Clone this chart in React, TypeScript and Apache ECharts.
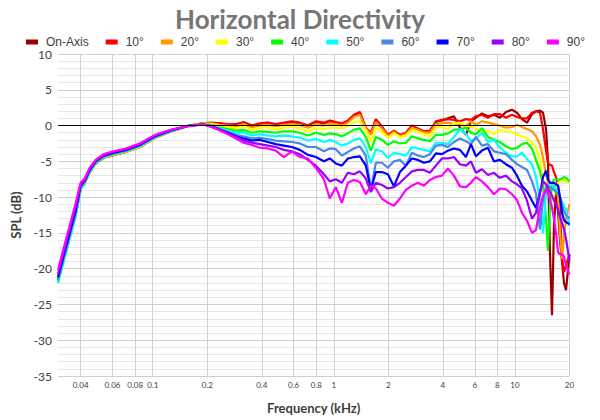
import React, { useEffect, useRef } from "react";
import * as echarts from "echarts";

const freqKHz = [
  0.03, 0.0322, 0.0348, 0.0376, 0.04, 0.0421, 0.0449, 0.0484, 0.0536, 0.0609, 0.0709, 0.0848, 0.103, 0.127, 0.16, 0.191,
  0.212, 0.235, 0.26, 0.288, 0.318, 0.352, 0.39, 0.432, 0.478, 0.53, 0.586, 0.649, 0.719, 0.796, 0.881, 0.95,
  1.026, 1.107, 1.195, 1.29, 1.392, 1.502, 1.601, 1.706, 1.842, 1.988, 2.146, 2.316, 2.499, 2.697, 2.912, 3.142, 3.391, 3.66,
  3.951, 4.264, 4.603, 4.968, 5.362, 5.713, 6.088, 6.571, 7.092, 7.655, 8.262, 8.918, 9.625, 10.26, 10.93, 11.65, 12.42, 13.06,
  13.74, 14.28, 14.84, 15.22, 15.61, 16.01, 16.42, 16.85, 17.29, 17.73, 18.19, 18.65, 19.13, 20,
];

const onAxis = [
  -21.6, -18.6, -15.4, -12.2, -8.8, -8.0, -6.5, -5.3, -4.5, -4.1, -3.7, -3.0, -1.7, -0.8, 0.0, 0.3,
  0.3, 0.3, 0.1, 0.2, 0.4, 0.0, 0.2, 0.4, 0.1, 0.3, 0.5, 0.3, 0.0, 0.5, 0.3, 0.6,
  0.4, 0.2, 0.6, 1.4, 1.8, -0.5, -1.2, 0.8, -0.3, -1.5, -0.8, -1.4, -1.2, -0.1, -0.5, -0.9, -0.9, 0.5,
  0.7, 1.0, 1.3, -0.3, -1.3, 0.6, 1.1, 1.7, 1.3, 1.5, 1.1, 1.9, 2.2, 1.8, 0.9, 0.4, 1.6, 2.0,
  2.1, 1.8, -0.5, -5.0, -18, -26.5, -14, -9, -12, -16, -19, -22, -23, -18,
];
const deg10 = [
  -21.7, -18.7, -15.5, -12.3, -8.9, -8.0, -6.5, -5.3, -4.5, -4.1, -3.7, -3.0, -1.7, -0.8, 0.0, 0.35,
  0.4, 0.3, 0.2, 0.1, 0.5, 0.0, 0.3, 0.4, 0.2, 0.4, 0.6, 0.4, 0.0, 0.6, 0.4, 0.7,
  0.5, 0.3, 0.7, 1.5, 1.9, -0.3, -1.0, 0.9, -0.1, -1.3, -0.7, -1.3, -1.0, 0.0, -0.4, -0.8, -0.7, 0.6,
  0.8, 0.9, 0.8, 0.6, 0.9, 0.8, 1.3, 1.5, 1.1, 1.6, 1.6, 1.1, 1.5, 1.2, 1.0, 1.0, 1.8, 2.0,
  1.8, -0.5, -3.5, -5.2, -5.5, -5.6, -6.5, -7.2, -8.4, -12, -18.6, -20.5, -19.5, -18,
];
const deg20 = [
  -21.8, -18.8, -15.6, -12.4, -8.9, -8.1, -6.5, -5.3, -4.5, -4.1, -3.7, -3.0, -1.7, -0.8, 0.0, 0.3,
  0.3, 0.1, 0.0, -0.1, 0.2, -0.3, 0.0, 0.1, -0.1, 0.1, 0.2, 0.1, -0.3, 0.2, 0.0, 0.3,
  0.2, 0.0, 0.4, 1.2, 1.5, -0.4, -1.3, 0.5, -0.4, -1.5, -0.9, -1.5, -1.2, -0.3, -0.6, -1.0, -1.0, 0.2,
  0.3, 0.4, 0.2, 0.1, 0.0, 0.6, 0.1, 0.6, 0.4, 0.2, 0.0, -0.3, -0.2, 0.1, -0.2, -0.5, -0.8, -1.5,
  -2.6, -4.5, -6.8, -8.0, -8.8, -8.9, -8.6, -8.4, -10, -15, -18.6, -15.5, -13, -11,
];
const deg30 = [
  -21.9, -18.9, -15.7, -12.5, -8.9, -8.1, -6.5, -5.3, -4.45, -4.05, -3.65, -2.95, -1.7, -0.8, 0.0, 0.25,
  0.2, -0.1, -0.2, -0.4, -0.1, -0.6, -0.3, -0.3, -0.5, -0.3, -0.2, -0.4, -0.8, -0.3, -0.5, -0.3,
  -0.3, -0.4, -0.1, 0.5, 0.6, -0.6, -2.2, -0.3, -0.9, -1.7, -1.1, -1.6, -1.4, -0.6, -0.9, -1.2, -1.5, -0.3,
  -0.2, -0.5, 0.3, 0.4, 0.0, -0.2, -0.4, -0.8, -0.8, -1.2, -0.6, -0.8, -0.9, -1.2, -1.5, -1.8, -2.4, -3.0,
  -4.8, -7.7, -8.6, -8.9, -9.5, -10.2, -9.8, -8.8, -8.0, -7.8, -7.5, -7.6, -7.8, -8.0,
];
const deg40 = [
  -22.0, -19.0, -15.8, -12.6, -8.9, -8.1, -6.5, -5.3, -4.4, -4.0, -3.6, -2.9, -1.65, -0.8, 0.0, 0.2,
  0.1, -0.3, -0.5, -0.7, -0.6, -1.0, -0.8, -0.9, -1.0, -0.8, -0.8, -1.0, -1.4, -1.0, -1.3, -1.1,
  -1.2, -1.5, -1.1, -0.6, -0.4, -1.6, -3.5, -1.6, -2.0, -2.7, -2.2, -2.5, -2.4, -1.5, -1.8, -2.0, -2.2, -1.3,
  -1.3, -1.1, -0.6, -0.5, -0.3, -1.0, -1.2, -0.4, -1.6, -2.0, -2.3, -2.9, -3.3, -3.1, -2.6, -2.4, -3.2, -4.8,
  -6.3, -8.3, -13, -17.5, -11, -8.3, -7.6, -7.5, -7.6, -7.5, -7.4, -7.2, -7.3, -7.8,
];
const deg50 = [
  -21.9, -18.9, -15.7, -12.5, -8.8, -8.0, -6.4, -5.2, -4.35, -3.95, -3.55, -2.85, -1.6, -0.75, 0.0, 0.2,
  0.0, -0.4, -0.7, -1.0, -1.0, -1.4, -1.2, -1.4, -1.5, -1.4, -1.5, -1.7, -2.1, -1.9, -2.3, -2.0,
  -2.3, -2.8, -2.5, -2.0, -1.8, -3.0, -5.3, -3.3, -3.6, -4.5, -3.8, -4.0, -4.2, -3.0, -3.2, -3.4, -3.6, -2.4,
  -2.4, -2.6, -1.6, -0.5, -1.2, -2.2, -1.8, -1.0, -2.3, -2.0, -3.1, -3.8, -4.3, -4.3, -3.8, -4.7, -5.4, -7.2,
  -10.3, -15.0, -9.5, -8.6, -8.0, -8.2, -8.5, -8.9, -9.3, -10.0, -10.7, -11.2, -11.7, -14,
];
const deg60 = [
  -21.6, -18.6, -15.4, -12.2, -8.6, -7.9, -6.3, -5.1, -4.3, -3.9, -3.5, -2.8, -1.55, -0.7, 0.0, 0.15,
  -0.1, -0.5, -0.9, -1.3, -1.5, -1.8, -1.7, -1.9, -2.1, -2.2, -2.3, -2.5, -3.0, -3.0, -3.6, -3.2,
  -3.3, -4.2, -3.7, -3.2, -2.9, -4.2, -9.0, -5.2, -5.2, -5.9, -5.0, -4.8, -5.6, -3.8, -4.2, -4.4, -4.0, -2.8,
  -2.7, -3.0, -2.3, -1.8, -2.2, -2.6, -1.6, -2.8, -2.6, -3.6, -3.8, -4.0, -4.8, -5.4, -5.8, -6.2, -7.8, -9.5,
  -14.5, -10.3, -8.6, -8.4, -8.6, -8.8, -9.0, -9.3, -9.5, -10.0, -11.0, -12.0, -12.5, -13.0,
];
const deg70 = [
  -21.2, -18.2, -15.0, -11.8, -8.4, -7.7, -6.2, -5.0, -4.2, -3.8, -3.4, -2.7, -1.5, -0.65, 0.0, 0.15,
  -0.1, -0.6, -1.0, -1.5, -1.8, -2.1, -2.0, -2.3, -2.6, -2.8, -3.0, -3.4, -4.1, -4.4, -5.0, -4.6,
  -5.3, -5.6, -4.6, -4.4, -4.3, -5.6, -9.0, -6.5, -6.5, -6.8, -8.5, -6.5, -5.6, -4.6, -4.8, -5.2, -5.0, -3.9,
  -4.0, -3.5, -3.2, -3.4, -4.4, -2.6, -4.3, -3.5, -3.1, -5.0, -4.8, -5.4, -5.9, -7.0, -8.4, -9.2, -10.5, -11.5,
  -9.5, -7.2, -6.3, -7.5, -8.0, -8.0, -8.0, -8.2, -8.4, -10.0, -12.2, -13.2, -13.5, -13.8,
];
const deg80 = [
  -20.7, -17.7, -14.5, -11.3, -8.2, -7.6, -6.0, -4.9, -4.1, -3.7, -3.3, -2.6, -1.4, -0.6, 0.0, 0.15,
  -0.2, -0.6, -1.1, -1.6, -2.1, -2.4, -2.6, -2.8, -3.0, -3.4, -3.6, -4.0, -4.8, -5.6, -6.8, -7.8,
  -7.5, -8.0, -6.6, -6.8, -6.4, -7.4, -9.3, -8.0, -8.3, -8.8, -8.6, -8.0, -7.2, -6.4, -6.2, -6.2, -6.6, -5.6,
  -4.6, -4.6, -4.4, -5.4, -5.6, -5.0, -6.6, -6.1, -6.9, -6.6, -7.3, -7.0, -7.8, -8.2, -8.8, -10.5, -13.0, -12.2,
  -9.3, -7.8, -8.2, -8.8, -9.3, -9.8, -10.5, -11.0, -11.8, -12.8, -13.6, -14.5, -15.8, -19.0,
];
const deg90 = [
  -20.2, -17.2, -14.0, -10.8, -8.0, -7.4, -5.9, -4.8, -4.0, -3.6, -3.2, -2.5, -1.3, -0.55, 0.0, 0.15,
  -0.2, -0.7, -1.2, -1.8, -2.4, -2.7, -3.1, -3.2, -3.5, -4.4, -3.6, -4.4, -4.6, -5.9, -7.5, -10.2,
  -8.6, -10.8, -8.0, -7.6, -7.9, -9.6, -8.4, -8.8, -10.2, -10.8, -11.2, -10.2, -9.0, -8.4, -8.0, -8.4, -7.6, -7.2,
  -7.0, -6.0, -7.0, -8.5, -8.6, -8.0, -7.2, -7.8, -8.6, -9.6, -8.8, -8.9, -9.6, -10.4, -12.2, -13.3, -15.0, -14.6,
  -11.5, -9.8, -8.9, -9.5, -10.3, -11.5, -13.0, -15.0, -17.7, -18.0, -18.0, -18.3, -19.5, -20.8,
];

const seriesNames = ["On-Axis", "10°", "20°", "30°", "40°", "50°", "60°", "70°", "80°", "90°"];
const seriesColors = ["#9B0000", "#FF0000", "#FF9900", "#FFFF00", "#00FF00", "#00FFFF", "#4A86E8", "#0000FF", "#9900FF", "#FF00FF"];
const xTickValues = [0.04, 0.06, 0.08, 0.1, 0.2, 0.4, 0.6, 0.8, 1, 2, 4, 6, 8, 10, 20];
const xMinKHz = 0.03;
const xMaxKHz = 20;

export default function App() {
  const ref = useRef<HTMLDivElement>(null);
  useEffect(() => {
    const chart = echarts.init(ref.current!, undefined, { renderer: "svg" });
    const all = [onAxis, deg10, deg20, deg30, deg40, deg50, deg60, deg70, deg80, deg90];
    const tickLog = xTickValues.map((v) => Math.log10(v));
    const fmt = (v: number) => {
      let best = xTickValues[0];
      let bd = Infinity;
      for (const t of xTickValues) {
        const d = Math.abs(Math.log10(t) - v);
        if (d < bd) { bd = d; best = t; }
      }
      return String(best);
    };
    const series: any[] = [
      {
        type: "line",
        name: "zero",
        data: [],
        z: 1,
        silent: true,
        markLine: {
          silent: true,
          symbol: "none",
          label: { show: false },
          lineStyle: { color: "#000", width: 1, type: "solid" },
          data: [{ yAxis: 0 }],
        },
      },
    ];
    seriesNames.forEach((n, i) => {
      series.push({
        name: n,
        type: "line",
        data: freqKHz.map((f, j) => [Math.log10(f), all[i][j]]),
        showSymbol: false,
        symbol: "none",
        z: 2,
        lineStyle: { width: 2.2, color: seriesColors[i] },
        itemStyle: { color: seriesColors[i] },
      });
    });
    chart.setOption({
      animation: false,
      backgroundColor: "#ffffff",
      title: {
        text: "Horizontal Directivity",
        left: "center",
        top: 1,
        textStyle: { fontFamily: "Lato", fontWeight: "bold", fontSize: 26, color: "#767676" },
      },
      legend: {
        data: seriesNames,
        left: 21,
        top: 31,
        icon: "rect",
        itemWidth: 12,
        itemHeight: 5,
        itemGap: 17,
        textStyle: { fontFamily: "Liberation Sans", fontSize: 12, color: "#404040", padding: [0, 0, 0, 3] },
      },
      grid: { left: 58, right: 30.5, top: 54, bottom: 44 },
      xAxis: {
        type: "value",
        min: Math.log10(xMinKHz),
        max: Math.log10(xMaxKHz),
        name: "Frequency (kHz)",
        nameLocation: "middle",
        nameGap: 25,
        nameTextStyle: { fontFamily: "Lato", fontWeight: "bold", fontSize: 13, color: "#404040" },
        axisLine: { show: false },
        axisTick: { show: false, customValues: tickLog },
        axisLabel: { customValues: tickLog, formatter: fmt, fontSize: 8, color: "#404040", margin: 5, fontFamily: "Lato" },
        splitLine: { show: true, lineStyle: { color: "#d0d0d0", width: 1 } },
      },
      yAxis: {
        type: "value",
        min: -35,
        max: 10,
        interval: 5,
        name: "SPL (dB)",
        nameLocation: "middle",
        nameGap: 32,
        nameTextStyle: { fontFamily: "Lato", fontWeight: "bold", fontSize: 13, color: "#404040" },
        axisLine: { show: false },
        axisTick: { show: false },
        axisLabel: { fontSize: 12, color: "#404040", margin: 6, fontFamily: "Lato" },
        splitLine: { show: true, lineStyle: { color: "#cfcfcf", width: 1 } },
        minorTick: { show: false, splitNumber: 5 },
        minorSplitLine: { show: true, lineStyle: { color: "#e6e6e6", width: 1 } },
      },
      series,
    });
    return () => chart.dispose();
  }, []);
  return <div ref={ref} style={{ position: "fixed", left: 0, top: 0, width: 600, height: 420 }} />;
}
